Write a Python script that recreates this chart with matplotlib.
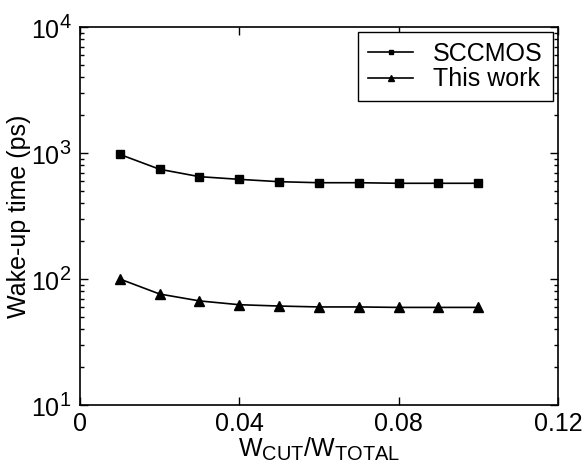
import matplotlib.pyplot as plt
import matplotlib._mathtext as mathtext_internal
from matplotlib.ticker import LogLocator, NullFormatter, NullLocator

plt.rcParams['font.family'] = ['Liberation Sans', 'DejaVu Sans']
plt.rcParams['mathtext.fontset'] = 'custom'
plt.rcParams['mathtext.rm'] = 'Liberation Sans'
plt.rcParams['mathtext.default'] = 'regular'
# bigger sub/superscripts, closer to the original figure
mathtext_internal.SHRINK_FACTOR = 0.8

# data
ratio = [0.01, 0.02, 0.03, 0.04, 0.05, 0.06, 0.07, 0.08, 0.09, 0.10]
sccmos = [975, 743, 649, 618, 592, 581, 581, 575, 575, 575]
this_work = [100, 76, 67, 62.5, 61, 60, 60, 59.5, 59.5, 59.5]
xticks = [0, 0.04, 0.08, 0.12]
xtick_labels = ['0', '0.04', '0.08', '0.12']

fig = plt.figure(figsize=(5.86, 4.74), dpi=100)
ax = fig.add_axes([0.1365, 0.1456, 0.8155, 0.7974])

ax.plot(ratio, sccmos, 'k-', marker='s', ms=6, lw=1.2, label='SCCMOS')
ax.plot(ratio, this_work, 'k-', marker='^', ms=7, lw=1.2, label='This work')

ax.set_yscale('log')
ax.set_xlim(0, 0.12)
ax.set_ylim(10, 1e4)
ax.set_xticks(xticks)
ax.set_xticklabels(xtick_labels)
ax.xaxis.set_minor_locator(NullLocator())
ax.yaxis.set_major_locator(LogLocator(base=10))
ax.yaxis.set_minor_locator(LogLocator(base=10, subs=range(2, 10)))
ax.yaxis.set_minor_formatter(NullFormatter())

ax.tick_params(which='both', direction='in', top=True, right=True,
               labelsize=18, width=1.0)
ax.tick_params(axis='x', pad=5)
ax.tick_params(axis='y', pad=6)
ax.tick_params(which='major', length=6)
ax.tick_params(which='minor', length=3)
for s in ax.spines.values():
    s.set_linewidth(1.2)

ax.set_xlabel(r'W$_{CUT}$/W$_{TOTAL}$', fontsize=18, labelpad=0)
ax.set_ylabel('Wake-up time (ps)', fontsize=18, labelpad=0)

leg = ax.legend(loc='upper right', fontsize=18, numpoints=1, fancybox=False,
                edgecolor='black', framealpha=1, borderaxespad=0.2,
                handlelength=1.8, handletextpad=0.8, borderpad=0.4,
                labelspacing=0.05, markerscale=0.6)
leg.get_frame().set_linewidth(1.0)

fig.savefig('out.png', dpi=100)
